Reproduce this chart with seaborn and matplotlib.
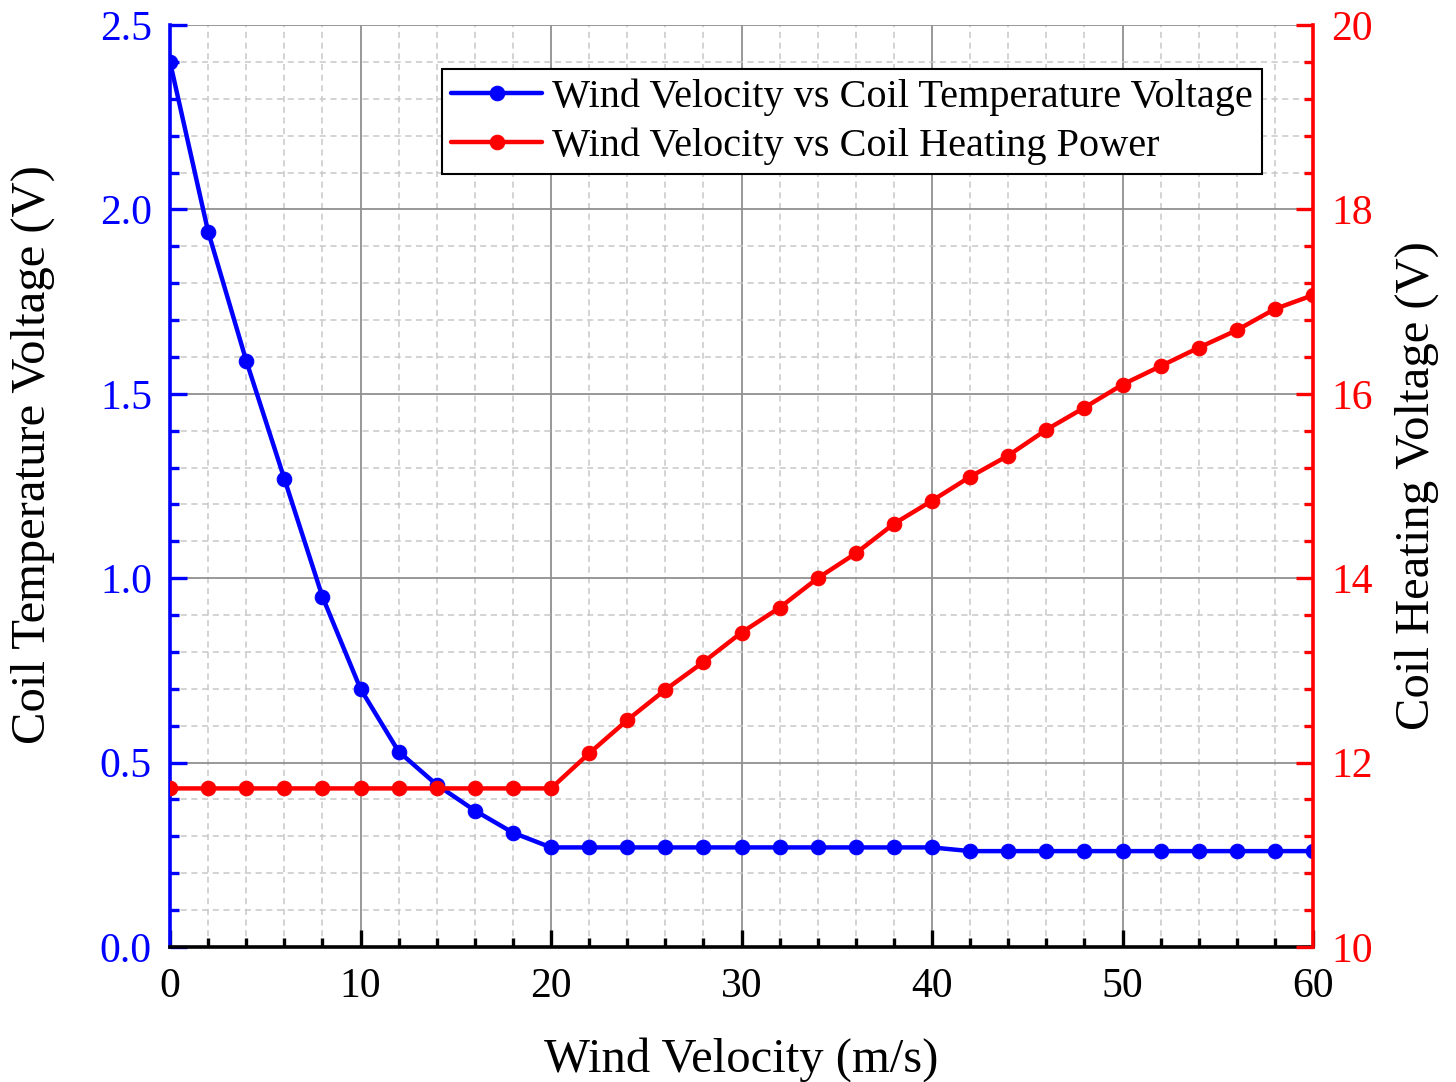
import numpy as np
import pandas as pd
import matplotlib
matplotlib.use("Agg")
import matplotlib.pyplot as plt
import seaborn as sns
from matplotlib.ticker import MultipleLocator

# ---- data ----
wind_velocity = [0, 2, 4, 6, 8, 10, 12, 14, 16, 18, 20, 22, 24, 26, 28, 30,
                 32, 34, 36, 38, 40, 42, 44, 46, 48, 50, 52, 54, 56, 58, 60]
coil_temp_voltage = [2.40, 1.94, 1.59, 1.27, 0.95, 0.70, 0.53, 0.44, 0.37, 0.31,
                     0.27, 0.27, 0.27, 0.27, 0.27, 0.27, 0.27, 0.27, 0.27, 0.27,
                     0.27, 0.26, 0.26, 0.26, 0.26, 0.26, 0.26, 0.26, 0.26, 0.26, 0.26]
coil_heating_voltage = [11.72, 11.72, 11.72, 11.72, 11.72, 11.72, 11.72, 11.72, 11.72, 11.72,
                        11.72, 12.10, 12.46, 12.79, 13.09, 13.41, 13.68, 14.00, 14.27, 14.59,
                        14.84, 15.10, 15.33, 15.61, 15.85, 16.10, 16.30, 16.50, 16.69, 16.92, 17.07]
label_temp = "Wind Velocity vs Coil Temperature Voltage"
label_heat = "Wind Velocity vs Coil Heating Power"

df = pd.DataFrame({"v": wind_velocity, "t": coil_temp_voltage, "h": coil_heating_voltage})

sns.set_style("white")
plt.rcParams["font.family"] = ["Liberation Serif", "DejaVu Serif"]

fig = plt.figure(figsize=(14.56, 10.82), dpi=100)
ax = fig.add_axes([170/1456, 1 - 947/1082, (1313-170)/1456, (947-25)/1082])
ax2 = ax.twinx()

BLUE = "#0000FF"
RED = "#FF0000"

sns.lineplot(data=df, x="v", y="t", ax=ax, color=BLUE, marker="o", markersize=10.5,
             markeredgecolor=BLUE, linewidth=3.2, label=label_temp, legend=False, zorder=5)
sns.lineplot(data=df, x="v", y="h", ax=ax2, color=RED, marker="o", markersize=10.5,
             markeredgecolor=RED, linewidth=3.2, label=label_heat, legend=False, zorder=5)

ax.set_xlim(0, 60)
ax.set_ylim(0, 2.5)
ax2.set_ylim(10, 20)

ax.xaxis.set_major_locator(MultipleLocator(10))
ax.xaxis.set_minor_locator(MultipleLocator(2))
ax.yaxis.set_major_locator(MultipleLocator(0.5))
ax.yaxis.set_minor_locator(MultipleLocator(0.1))
ax2.yaxis.set_major_locator(MultipleLocator(2))
ax2.yaxis.set_minor_locator(MultipleLocator(0.4))
ax.yaxis.set_major_formatter(matplotlib.ticker.FormatStrFormatter("%.1f"))

# grid
ax.grid(True, which="major", color="#909090", linewidth=1.3, linestyle="-")
ax.grid(True, which="minor", color="#C8C8C8", linewidth=1.1, linestyle=(0, (4, 3)))
ax.set_axisbelow(True)

# spines
for a in (ax, ax2):
    a.spines["top"].set_visible(False)
ax.spines["right"].set_visible(False)
ax2.spines["left"].set_visible(False)
ax2.spines["bottom"].set_visible(False)
ax.spines["left"].set_color(BLUE)
ax.spines["left"].set_linewidth(2.6)
ax.spines["bottom"].set_color("black")
ax.spines["bottom"].set_linewidth(2.6)
ax2.spines["right"].set_color(RED)
ax2.spines["right"].set_linewidth(2.6)

# ticks
TS = 30
ax.tick_params(axis="x", which="major", direction="in", length=12, width=2.4,
               color="black", labelsize=TS, labelcolor="black", pad=15)
ax.tick_params(axis="x", which="minor", direction="in", length=6.5, width=2.4, color="black")
ax.tick_params(axis="y", which="major", direction="in", length=12, width=2.4,
               color=BLUE, labelsize=TS, labelcolor=BLUE, pad=13, left=True)
ax.tick_params(axis="y", which="minor", direction="in", length=6.5, width=2.4, color=BLUE, left=True)
ax2.tick_params(axis="y", which="major", direction="in", length=12, width=2.4,
                color=RED, labelsize=TS, labelcolor=RED, pad=13, right=True)
ax2.tick_params(axis="y", which="minor", direction="in", length=6.5, width=2.4, color=RED, right=True)
ax.tick_params(axis="x", which="both", bottom=True)

LS = 35
ax.set_xlabel("Wind Velocity (m/s)", fontsize=LS, labelpad=22, color="black")
ax.set_ylabel("Coil Temperature Voltage (V)", fontsize=LS, color="black")
ax.yaxis.set_label_coords(-0.101, 0.534)
ax2.set_ylabel("Coil Heating Voltage (V)", fontsize=LS, labelpad=16, color="black")

h1, l1 = ax.get_legend_handles_labels()
h2, l2 = ax2.get_legend_handles_labels()
leg = ax2.legend(h1 + h2, l1 + l2, loc="upper right", bbox_to_anchor=(0.955, 0.952),
                 fontsize=29, frameon=True, fancybox=False, edgecolor="black",
                 handlelength=2.25, handletextpad=0.25, borderpad=0.22, labelspacing=0.3,
                 borderaxespad=0)
leg.get_frame().set_linewidth(1.5)
leg.get_frame().set_facecolor("white")
leg.get_frame().set_alpha(1)
for t in leg.get_texts():
    t.set_color("black")

fig.savefig("out.png", dpi=100)
